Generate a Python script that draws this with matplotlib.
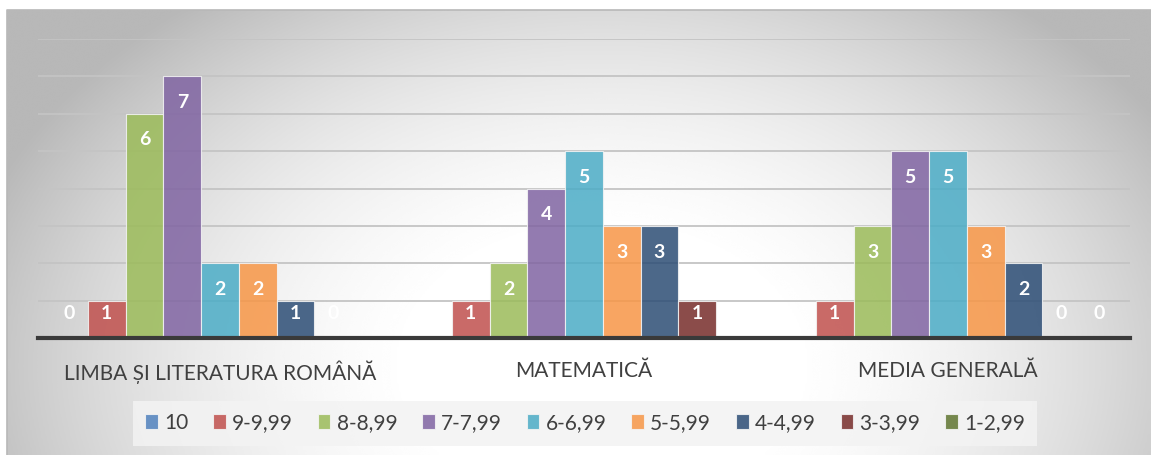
import numpy as np
import matplotlib
matplotlib.use("Agg")
import matplotlib.pyplot as plt

plt.rcParams['font.family'] = ['Lato', 'DejaVu Sans']

# data
categories = ['LIMBA ȘI LITERATURA ROMÂNĂ', 'MATEMATICĂ', 'MEDIA GENERALĂ']
series = ['10', '9-9,99', '8-8,99', '7-7,99', '6-6,99', '5-5,99', '4-4,99', '3-3,99', '1-2,99']
# rows = series, columns = categories (nan = no value shown)
values = [
    [0, np.nan, np.nan],
    [1, 1, 1],
    [6, 2, 3],
    [7, 4, 5],
    [2, 5, 5],
    [2, 3, 3],
    [1, 3, 2],
    [0, 1, 0],
    [np.nan, np.nan, 0],
]
colors = ['#4F81BD', '#C0504D', '#9BBB59', '#8064A2', '#4BACC6',
          '#F79646', '#2C4D75', '#772C2A', '#5F7530']

W, H = 1151, 455
fig = plt.figure(figsize=(W / 100, H / 100), dpi=100)

# radial gradient background (Excel style)
bg = fig.add_axes([7 / W, 0, 1 - 7 / W, 1 - 10 / H])
bg.set_axis_off()
yy, xx = np.mgrid[0:1:300j, 0:1:600j]
r = np.sqrt(((xx - 0.52) / 0.55) ** 2 + ((yy - 0.8) / 1.0) ** 2)
shade = np.clip(1.02 - 0.27 * r ** 2.2, 0.72, 1)
bg.imshow(shade, cmap='gray', vmin=0, vmax=1, aspect='auto',
          extent=[0, 1, 0, 1], interpolation='bicubic')
bg.set_xlim(0, 1)
bg.set_ylim(0, 1)
bg.plot([0, 0, 1], [0, 1, 1], color='#b8b8b8', lw=1.2, transform=bg.transAxes, clip_on=False)

# plot area
ax = fig.add_axes([38 / W, 117 / H, (1130 - 38) / W, (338 - 39) / H])
ax.patch.set_alpha(0)
ax.set_xlim(-0.5, 2.5)
ax.set_ylim(0, 8)

n = len(series)
bw = 1 / 9.65
x = np.arange(len(categories))
for i, (name, vals, c) in enumerate(zip(series, values, colors)):
    pos = x + (i - (n - 1) / 2) * bw
    vals = np.array(vals, dtype=float)
    ax.bar(pos, np.nan_to_num(vals), bw, color=c, alpha=0.85,
           edgecolor='#f4f4f4', linewidth=0.8, label=name, zorder=3)
    for px, v in zip(pos, vals):
        if np.isnan(v):
            continue
        ly = max(v - 0.7, 0.66)
        ax.text(px, ly, str(int(v)), ha='center', va='center', color='white',
                fontsize=14, fontweight='bold', zorder=4)

ax.set_yticks(range(0, 9))
ax.yaxis.grid(True, color='#c4c4c4', lw=1.3, zorder=0)
ax.set_yticklabels([])
ax.tick_params(left=False, bottom=False)
for s in ['top', 'right', 'left']:
    ax.spines[s].set_visible(False)
ax.spines['bottom'].set_color('#3a3a3a')
ax.spines['bottom'].set_linewidth(3)
ax.spines['bottom'].set_zorder(5)
ax.set_xticks(x)
ax.set_xticklabels(categories, fontsize=15, color='#404040')
ax.tick_params(axis='x', pad=13)

leg = fig.legend(loc='center', bbox_to_anchor=(585 / W, 1 - 423 / H), ncol=n,
                 frameon=True, fontsize=15, handlelength=0.6, handleheight=0.7,
                 handletextpad=0.3, columnspacing=1.2, borderpad=0.6)
leg.get_frame().set_facecolor('#f3f3f3')
leg.get_frame().set_edgecolor('none')
leg.get_frame().set_alpha(0.85)
leg.get_frame().set_boxstyle('square', pad=0)
for t in leg.get_texts():
    t.set_color('#404040')

fig.savefig('out.png', dpi=100)
